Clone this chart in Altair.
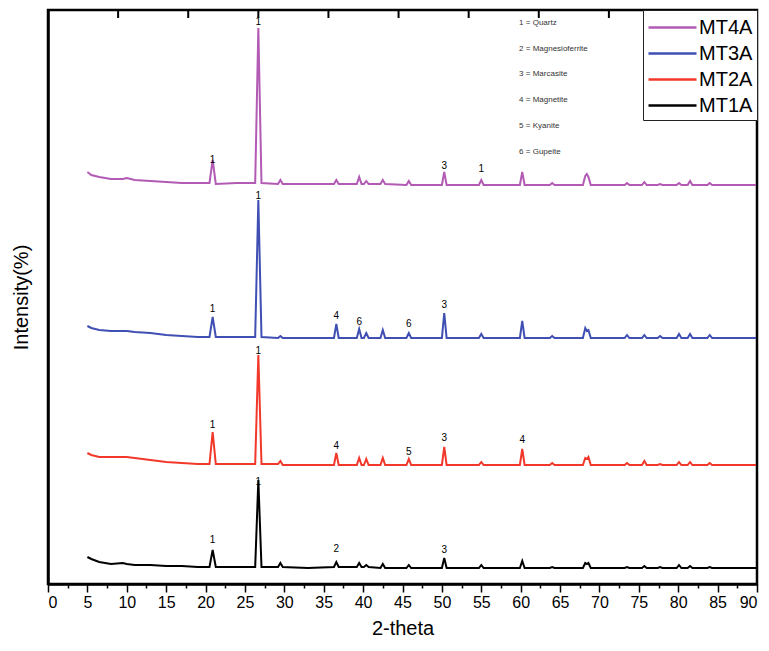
import altair as alt
import pandas as pd

# 2-theta grid (degrees)
two_theta = [5, 5.5, 6.5, 8, 9.5, 10, 11, 13, 15, 17, 19, 20.5, 20.9, 21.3, 24, 26.3, 26.7, 27.1,
             29.2, 29.5, 29.8, 33, 36.3, 36.6, 36.9, 39.2, 39.5, 39.8, 40.1, 40.4, 40.7,
             42.2, 42.5, 42.8, 45.5, 45.8, 46.1, 50.0, 50.3, 50.6, 54.7, 55.0, 55.3,
             59.9, 60.2, 60.5, 63.7, 64.0, 64.3, 67.9, 68.2, 68.4, 68.6, 68.9,
             73.2, 73.5, 73.8, 75.4, 75.7, 76.0, 77.4, 77.7, 78.0, 79.8, 80.1, 80.4,
             81.2, 81.5, 81.8, 83.7, 84.0, 84.3, 87, 90]

mt1a = [27, 25, 22, 20, 21, 20, 19, 19, 18, 18, 17, 17, 34, 17, 17, 17, 104, 17,
        17, 21, 17, 16, 17, 22, 17, 17, 21, 17, 17, 19, 17,
        16, 20, 16, 16, 19, 16, 16, 26, 16, 16, 19, 16,
        16, 23, 16, 16, 17, 16, 16, 21, 20, 21, 16,
        16, 17, 16, 16, 18, 16, 16, 17, 16, 16, 19, 16,
        16, 18, 16, 16, 17, 16, 16, 16]

mt2a = [131, 129, 127, 127, 127, 127, 126, 124, 122, 121, 120, 120, 152, 120, 120, 120, 229, 120,
        120, 123, 119, 119, 119, 131, 119, 119, 126, 119, 119, 125, 119,
        119, 126, 119, 119, 125, 119, 119, 137, 119, 119, 122, 119,
        119, 135, 119, 119, 121, 119, 119, 126, 125, 127, 119,
        119, 121, 119, 119, 123, 119, 119, 120, 119, 119, 122, 119,
        119, 122, 119, 119, 121, 119, 119, 119]

mt3a = [258, 256, 254, 253, 253, 253, 252, 251, 249, 248, 247, 247, 267, 247, 247, 247, 384, 247,
        246, 248, 246, 246, 246, 260, 246, 246, 255, 246, 246, 251, 246,
        246, 254, 246, 246, 251, 246, 246, 271, 246, 246, 250, 246,
        246, 263, 246, 246, 248, 246, 246, 256, 253, 254, 246,
        246, 249, 246, 246, 249, 246, 246, 248, 246, 246, 250, 246,
        246, 250, 246, 246, 249, 246, 246, 246]

mt4a = [412, 409, 407, 405, 405, 406, 404, 403, 402, 401, 401, 401, 424, 400, 401, 401, 556, 401,
        400, 404, 400, 400, 400, 404, 400, 400, 407, 400, 400, 403, 400,
        400, 404, 400, 399, 403, 399, 399, 412, 399, 399, 404, 399,
        399, 412, 399, 399, 401, 399, 399, 408, 410, 407, 399,
        399, 401, 399, 399, 402, 399, 399, 400, 399, 399, 401, 399,
        399, 403, 399, 399, 401, 399, 399, 399]

series_names = ["MT4A", "MT3A", "MT2A", "MT1A"]
series_values = [mt4a, mt3a, mt2a, mt1a]
series_colors = ["#b25ab4", "#3f4fb3", "#f2382a", "#000000"]

# peak annotations
ann_x = [20.9, 26.7, 36.6, 50.3,
         20.9, 26.7, 36.6, 45.8, 50.3, 60.2,
         20.9, 26.7, 36.6, 39.5, 45.8, 50.3,
         20.9, 26.7, 50.3, 55.0]
ann_y = [44, 102, 35, 34,
         159, 233, 138, 132, 146, 144,
         275, 388, 268, 262, 260, 279,
         424, 562, 418, 415]
ann_text = ["1", "1", "2", "3",
            "1", "1", "4", "5", "3", "4",
            "1", "1", "4", "6", "6", "3",
            "1", "1", "3", "1"]

phase_labels = ["1 = Quartz", "2 = Magnesioferrite", "3 = Marcasite",
                "4 = Magnetite", "5 = Kyanite", "6 = Gupeite"]
phase_y = [561, 535, 510, 484, 458, 432]
phase_x = [59.8, 59.8, 59.8, 59.8, 59.8, 59.8]

x_tick_values = [0, 2.5, 5, 7.5, 10, 12.5, 15, 17.5, 20, 22.5, 25, 27.5, 30, 32.5, 35, 37.5,
                 40, 42.5, 45, 47.5, 50, 52.5, 55, 57.5, 60, 62.5, 65, 67.5, 70, 72.5, 75,
                 77.5, 80, 82.5, 85, 87.5, 90]
top_tick_values = [8.9, 17.8, 26.7, 35.6, 44.5, 53.4, 62.3, 71.2, 80.1]
y_top = 574
top_tick_end = 566

# frame edges (top, right) as segments in data units
frame_segments = {
    "top": ([0, 90], [574, 574]),
    "right": ([90, 90], [574, 0]),
}

rows = []
for name, vals in zip(series_names, series_values):
    for k, (x, y) in enumerate(zip(two_theta, vals)):
        rows.append({"two_theta": x, "intensity": y, "sample": name, "seg": name, "k": k})
for seg, (xs, ys) in frame_segments.items():
    for k, (x, y) in enumerate(zip(xs, ys)):
        rows.append({"two_theta": x, "intensity": y, "sample": "frame", "seg": seg, "k": k})
for i, v in enumerate(top_tick_values):
    rows.append({"two_theta": v, "intensity": y_top, "sample": "frame", "seg": f"tick{i}", "k": 0})
    rows.append({"two_theta": v, "intensity": top_tick_end, "sample": "frame", "seg": f"tick{i}", "k": 1})
df = pd.DataFrame(rows)

ann_df = pd.DataFrame({"two_theta": ann_x, "intensity": ann_y, "t": ann_text})
phase_df = pd.DataFrame({"two_theta": phase_x, "intensity": phase_y, "t": phase_labels})

FONT = "Liberation Sans"
x_scale = alt.Scale(domain=[0, 90], nice=False, zero=False)
y_scale = alt.Scale(domain=[0, 574], nice=False, zero=False)

x_axis = alt.Axis(title="2-theta", values=x_tick_values,
                  labelExpr="datum.value % 5 === 0 ? datum.label : ''",
                  tickSize={"condition": {"test": "datum.value % 5 === 0", "value": 8}, "value": 4},
                  labelOverlap=False, grid=False, labelFontSize=16, titleFontSize=20,
                  labelPadding=2, titlePadding=8, tickColor="black", tickWidth=1.5,
                  domainColor="black", domainWidth=2.5, labelColor="black",
                  titleColor="black", titleFontWeight="normal", labelFont=FONT, titleFont=FONT)
y_axis = alt.Axis(title="Intensity(%)", labels=False, ticks=False, grid=False,
                  titleFontSize=20, titlePadding=17, domainColor="black", domainWidth=2.5,
                  titleColor="black", titleFontWeight="normal", titleFont=FONT)

lines = alt.Chart(df).mark_line(strokeWidth=2).encode(
    x=alt.X("two_theta:Q", scale=x_scale, axis=x_axis),
    y=alt.Y("intensity:Q", scale=y_scale, axis=y_axis),
    color=alt.Color("sample:N",
                    scale=alt.Scale(domain=series_names + ["frame"], range=series_colors + ["#000000"]),
                    legend=alt.Legend(title=None, orient="top-right", offset=0, values=series_names)),
    detail="seg:N",
    order="k:Q",
)

ann = alt.Chart(ann_df).mark_text(fontSize=10, font=FONT, color="black", baseline="middle").encode(
    x=alt.X("two_theta:Q", scale=x_scale, axis=x_axis),
    y=alt.Y("intensity:Q", scale=y_scale, axis=y_axis),
    text="t:N",
)

phase = alt.Chart(phase_df).mark_text(fontSize=8, font=FONT, color="#333333", align="left",
                                      baseline="middle").encode(
    x=alt.X("two_theta:Q", scale=x_scale, axis=x_axis),
    y=alt.Y("intensity:Q", scale=y_scale, axis=y_axis),
    text="t:N",
)

chart = alt.layer(lines, ann, phase).properties(
    width=709, height=574,
    autosize=alt.AutoSizeParams(type="none"),
    padding={"left": 40, "top": 2, "right": 4, "bottom": 58},
).configure(font=FONT).configure_view(
    stroke="black", strokeWidth=2.5
).configure_legend(
    strokeColor="#222222", fillColor="white", padding=4, labelFontSize=20, labelColor="black",
    symbolType="M-1,0H3", symbolSize=576, symbolStrokeWidth=2.5, rowPadding=2,
    labelFont=FONT, cornerRadius=0, labelOffset=25
)

chart.save("out.html", embed_options={"renderer": "svg", "actions": False})
